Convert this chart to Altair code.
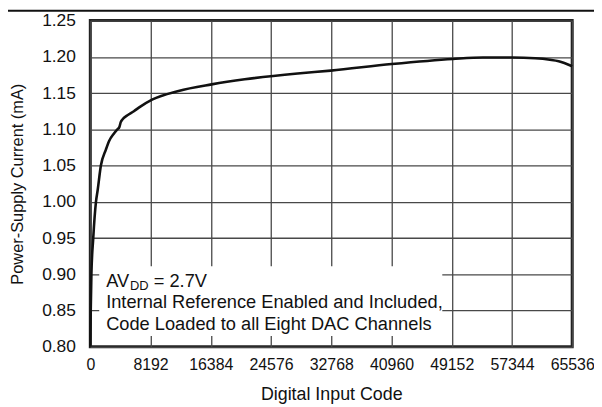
import altair as alt
import pandas as pd

# Curve data
codes = [0, 60, 150, 400, 770, 1000, 1440, 2120, 2560, 3200, 3680, 3950, 4140, 4400,
         5000, 5930, 6600, 8400, 12000, 16500, 21000, 28200, 32700, 41000, 49300,
         53400, 57400, 60500, 62500, 63700, 65536]
current = [0.80, 0.85, 0.90, 0.95, 1.00, 1.016, 1.05, 1.072, 1.084, 1.094, 1.100, 1.103,
           1.110, 1.114, 1.119, 1.125, 1.130, 1.141, 1.153, 1.162, 1.169, 1.177, 1.181,
           1.190, 1.197, 1.199, 1.199, 1.198, 1.196, 1.194, 1.187]

x_ticks = [0, 8192, 16384, 24576, 32768, 40960, 49152, 57344, 65536]
y_ticks = [0.80, 0.85, 0.90, 0.95, 1.00, 1.05, 1.10, 1.15, 1.20, 1.25]

note_lines = ["Internal Reference Enabled and Included,",
              "Code Loaded to all Eight DAC Channels"]

FONT = "Liberation Sans"

df = pd.DataFrame({"code": codes, "current": current})

xscale = alt.Scale(domain=[0, 65536], nice=False, zero=False)
yscale = alt.Scale(domain=[0.80, 1.25], nice=False, zero=False)

x_axis = alt.Axis(values=x_ticks, format="d", title="Digital Input Code",
                  labelFont=FONT, labelFontSize=16, labelColor="#111",
                  labelPadding=10, labelOverlap=False,
                  titleFont=FONT, titleFontSize=18,
                  titleFontWeight="normal", titleColor="#111",
                  titleY=53, titleBaseline="alphabetic",
                  ticks=False, domain=False, grid=True, labelFlush=False)
y_axis = alt.Axis(values=y_ticks, format=".2f", title="Power-Supply Current (mA)",
                  labelFont=FONT, labelFontSize=17.5, labelColor="#111",
                  labelPadding=15, labelOverlap=False,
                  titleFont=FONT, titleFontSize=16.5,
                  titleFontWeight="normal", titleColor="#111",
                  titleX=-73, titleY=164.5, titleAngle=270, titleAlign="center",
                  titleBaseline="middle",
                  ticks=False, domain=False, grid=True)

line = alt.Chart(df).mark_line(color="#111", strokeWidth=2.6, interpolate="monotone").encode(
    x=alt.X("code:Q", scale=xscale, axis=x_axis),
    y=alt.Y("current:Q", scale=yscale, axis=y_axis),
)

# white box behind the annotation
box_df = pd.DataFrame({"code": [1214], "x2": [47870], "current": [0.815], "y2": [0.911]})
box = alt.Chart(box_df).mark_rect(color="white").encode(
    x=alt.X("code:Q", scale=xscale, axis=x_axis), x2="x2:Q",
    y=alt.Y("current:Q", scale=yscale, axis=y_axis), y2="y2:Q",
)


def text_layer(xs, ys, texts, size):
    d = pd.DataFrame({"code": xs, "current": ys, "t": texts})
    return alt.Chart(d).mark_text(font=FONT, fontSize=size, align="left",
                                  baseline="alphabetic", color="#111").encode(
        x=alt.X("code:Q", scale=xscale, axis=x_axis),
        y=alt.Y("current:Q", scale=yscale, axis=y_axis),
        text="t:N")


note = text_layer([2158, 2158], [0.8529, 0.8233], note_lines, 18.4)
av = text_layer([2158], [0.8830], ["AV"], 18.4)
dd = text_layer([5394], [0.8784], ["DD"], 13)
eq = text_layer([8630], [0.8830], ["= 2.7V"], 18.4)

# header rule across the top of the page
top_rule = alt.Chart(pd.DataFrame({"a": [0]})).mark_rule(color="#111", strokeWidth=2).encode(
    x=alt.value(-83), x2=alt.value(508), y=alt.value(-10))

chart = alt.layer(line, box, note, av, dd, eq, top_rule).properties(
    width=486, height=329,
    autosize=alt.AutoSizeParams(type="none"),
    padding={"left": 83, "top": 11, "right": 22, "bottom": 58},
).configure_view(
    stroke="#222", strokeWidth=3
).configure_axis(
    gridColor="#484848", gridWidth=1.3, gridOpacity=1
)

chart.save("out.html", embed_options={"renderer": "svg", "actions": False})
